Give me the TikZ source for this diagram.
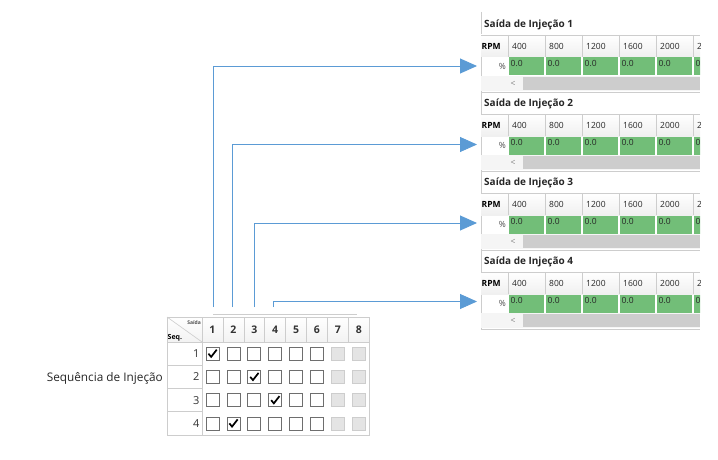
\documentclass[tikz,border=0pt]{standalone}
\usepackage{fontspec}
\setmainfont{Open Sans}
\usetikzlibrary{arrows.meta,calc,positioning}
\definecolor{linkblue}{RGB}{91,155,213}
\definecolor{cellgreen}{RGB}{114,190,120}
\definecolor{gridgray}{RGB}{205,205,205}
\definecolor{boxgray}{RGB}{110,110,110}
\definecolor{offgray}{RGB}{228,228,228}
\definecolor{bargray}{RGB}{205,205,205}
\tikzset{
  flow/.style={draw=linkblue, line width=0.9pt, -{Triangle[length=17pt,width=15pt]}},
  gridline/.style={draw=gridgray, line width=0.6pt},
  paneltitle/.style={anchor=west, inner sep=0pt, font=\fontsize{10}{12}\selectfont\bfseries, text=black!85},
  cellnum/.style={anchor=west, inner sep=0pt, font=\fontsize{8.5}{10}\selectfont, text=black!85},
  headnum/.style={inner sep=0pt, font=\fontsize{10.5}{12}\selectfont\bfseries, text=black!80},
  rownum/.style={anchor=east, inner sep=0pt, font=\fontsize{11}{13}\selectfont, text=black!80},
  chkbox/.style={draw=boxgray, line width=0.7pt, minimum size=13pt, inner sep=0pt},
  chkoff/.style={chkbox, draw=gridgray, fill=offgray},
  chkmark/.style={draw=black, line width=1.7pt}
}
\begin{document}
\begin{tikzpicture}[x=1pt,y=-1pt]
\useasboundingbox (0,0) rectangle (718,460);
% panels on the right
\draw[gridline] (481,12) -- (481,330);
\begin{scope}
\clip (481,0) rectangle (700,460);
\foreach \i in {1,...,4}{
  \pgfmathsetmacro{\yo}{79*(\i-1)}
  \pgfmathsetmacro{\ya}{66+78.5*(\i-1)}
  \node[paneltitle] (title\i) at (484,25+\yo) {Saída de Injeção \i};
  \shade[top color=white, bottom color=gray!12] (481,35+\yo) rectangle (700,57+\yo);
  \draw[gridline] (481,35+\yo) -- (700,35+\yo);
  \foreach \x in {508,545,582,619,656,693}
    \draw[gridline] (\x,35+\yo) -- (\x,57+\yo);
  \node[anchor=west, inner sep=0pt, font=\fontsize{8.5}{10}\selectfont\bfseries] (rpm\i) at (481.5,46+\yo) {RPM};
  \foreach \x/\v in {508/400,545/800,582/1200,619/1600,656/2000,693/2400}
    \node[cellnum] at (\x+4,46.5+\yo) {\v};
  \foreach \x in {508,545,582,619,656,693}{
    \fill[cellgreen] (\x+1,57.5+\yo) rectangle (\x+36,75.5+\yo);
    \node[cellnum] at (\x+2.5,63.5+\yo) {0.0};
  }
  \node[anchor=east, inner sep=0pt, font=\fontsize{8.5}{10}\selectfont, text=black!70] (pct\i) at (506,66+\yo) {\%};
  \fill[gray!8] (481,76+\yo) rectangle (700,91+\yo);
  \fill[bargray] (523,77+\yo) rectangle (700,90+\yo);
  \draw[gridline] (481,92+\yo) -- (700,92+\yo);
  \node[inner sep=0pt, font=\fontsize{8.5}{10}\selectfont, text=gray] (scroll\i) at (513,83.5+\yo) {\textless};
  \coordinate (in\i) at (477,\ya);
}
\end{scope}

% sequence grid
\node[anchor=east, inner sep=0pt, font=\fontsize{11.8}{14}\selectfont, text=black!85] (seqlabel) at (163,378) {Sequência de Injeção};
\draw[gridline] (213,314) -- (357,314);
\shade[top color=white, bottom color=gray!10] (167,317) rectangle (369.2,342);
\foreach \c in {0,...,7}
  \draw[gridline] (202+20.9*\c,317) -- (202+20.9*\c,342);
\foreach \c in {1,...,8}
  \node[headnum] (col\c) at (202+20.9*\c-10.45,330) {\c};
\draw[gridline] (167,342) -- (369.2,342);
\draw[gridline] (167,317) -- (202,342);
\node[inner sep=0pt, anchor=north east, font=\fontsize{5}{6}\selectfont\bfseries, text=black!70] (corner1) at (201,320) {Saída};
\node[inner sep=0pt, anchor=south west, font=\fontsize{7}{8}\selectfont\bfseries] (corner2) at (167.5,341) {Seq.};
\foreach \r in {1,...,4}{
  \node[rownum] (row\r) at (199.5,342+23.25*\r-11.6) {\r};
  \foreach \c in {1,...,6}
    \node[chkbox] (b\r\c) at (202+20.9*\c-10.45,342+23.25*\r-11.6) {};
  \foreach \c in {7,8}
    \node[chkoff] (b\r\c) at (202+20.9*\c-10.45,342+23.25*\r-11.6) {};
}
\foreach \r in {1,2,3}
  \draw[gridline] (167,342+23.25*\r) -- (202,342+23.25*\r);
\draw[gridline] (202,342) -- (202,435);
\draw[gridline] (167,317) rectangle (369.2,435);
\foreach \r/\c in {1/1,2/3,3/4,4/2}
  \draw[chkmark] ($(b\r\c)+(-4,0)$) -- ($(b\r\c)+(-1.3,3.2)$) -- ($(b\r\c)+(4.3,-4)$);

% links
\coordinate (out1) at (213,307);
\coordinate (out2) at (232,307);
\coordinate (out3) at (254,307);
\coordinate (out4) at (273,307);
\foreach \i in {1,...,4}
  \draw[flow] (out\i) |- (in\i);
\end{tikzpicture}
\end{document}
